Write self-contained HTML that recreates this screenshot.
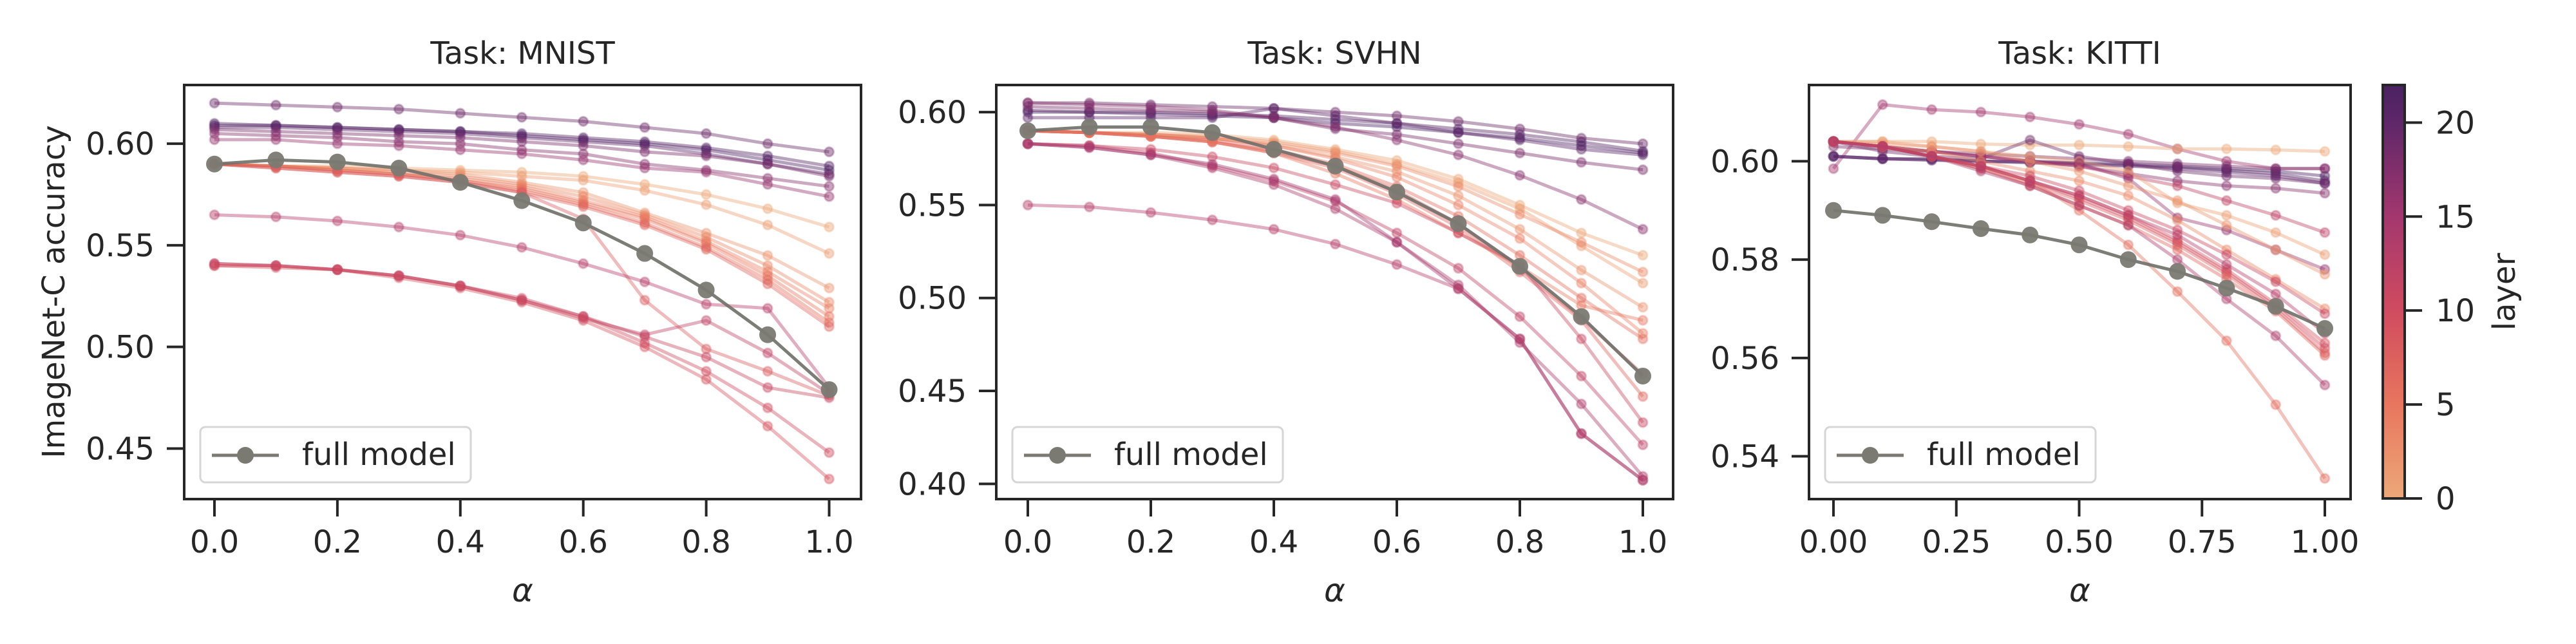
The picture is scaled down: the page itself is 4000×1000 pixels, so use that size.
<!DOCTYPE html>
<html><head><meta charset="utf-8">
<style>
html,body{margin:0;padding:0;background:#fff;}
svg{display:block;font-family:"DejaVu Sans","Liberation Sans",sans-serif;}
</style></head>
<body>
<svg id="fig" width="4000" height="1000" viewBox="0 0 4000 1000" xmlns="http://www.w3.org/2000/svg">
<defs>
<linearGradient id="cbgrad" x1="0" y1="1" x2="0" y2="0">
<stop offset="0" stop-color="#eca878"/>
<stop offset="0.227" stop-color="#e8765e"/>
<stop offset="0.455" stop-color="#d04b5f"/>
<stop offset="0.682" stop-color="#a3376e"/>
<stop offset="0.909" stop-color="#5e2768"/>
<stop offset="1" stop-color="#4a2262"/>
</linearGradient>
</defs>
<g id="root"></g>
</svg>
<script>
// ---- shared data ----
const alphas = [0,0.1,0.2,0.3,0.4,0.5,0.6,0.7,0.8,0.9,1.0];

// MNIST
const mnistLayers = [19,22,21,20,18,17,16,0,1,2,3,4,5,6,7,8,13,12,9,10,11];
const mnistValues = [
 [0.620,0.619,0.618,0.617,0.615,0.613,0.611,0.608,0.605,0.600,0.596],
 [0.609,0.609,0.608,0.607,0.606,0.604,0.602,0.600,0.597,0.592,0.587],
 [0.610,0.609,0.608,0.607,0.606,0.605,0.603,0.601,0.598,0.594,0.589],
 [0.608,0.608,0.607,0.606,0.605,0.603,0.601,0.599,0.595,0.590,0.585],
 [0.607,0.606,0.605,0.604,0.603,0.601,0.599,0.596,0.594,0.590,0.584],
 [0.605,0.604,0.603,0.601,0.600,0.597,0.595,0.590,0.587,0.583,0.579],
 [0.602,0.602,0.600,0.599,0.597,0.595,0.592,0.588,0.586,0.580,0.574],
 [0.590,0.589,0.589,0.588,0.587,0.586,0.584,0.580,0.575,0.568,0.559],
 [0.590,0.589,0.588,0.587,0.586,0.584,0.582,0.577,0.570,0.560,0.546],
 [0.590,0.589,0.588,0.587,0.585,0.581,0.576,0.566,0.556,0.545,0.529],
 [0.590,0.589,0.588,0.586,0.584,0.580,0.574,0.565,0.554,0.540,0.522],
 [0.590,0.589,0.587,0.585,0.583,0.579,0.572,0.564,0.552,0.537,0.519],
 [0.590,0.589,0.587,0.585,0.582,0.578,0.571,0.563,0.551,0.535,0.515],
 [0.590,0.589,0.587,0.585,0.582,0.577,0.570,0.561,0.549,0.533,0.512],
 [0.590,0.588,0.586,0.584,0.581,0.576,0.569,0.560,0.548,0.531,0.510],
 [0.590,0.588,0.586,0.584,0.581,0.576,0.563,0.523,0.499,0.488,0.476],
 [0.565,0.564,0.562,0.559,0.555,0.549,0.541,0.532,0.521,0.519,0.480],
 [0.541,0.540,0.538,0.535,0.530,0.523,0.514,0.506,0.513,0.497,0.477],
 [0.540,0.539,0.538,0.534,0.529,0.522,0.513,0.500,0.484,0.461,0.435],
 [0.540,0.540,0.538,0.535,0.530,0.524,0.515,0.502,0.488,0.470,0.448],
 [0.541,0.540,0.538,0.535,0.530,0.523,0.515,0.505,0.495,0.480,0.475]
];
const mnistFull = [0.590,0.592,0.591,0.588,0.581,0.572,0.561,0.546,0.528,0.506,0.479];
const mnistYTicks = [0.45,0.50,0.55,0.60];
const mnistYLabels = ["0.45","0.50","0.55","0.60"];
const mnistXTicks = [0,0.2,0.4,0.6,0.8,1.0];
const mnistXLabels = ["0.0","0.2","0.4","0.6","0.8","1.0"];

// SVHN
const svhnLayers = [19,22,21,20,17,18,0,1,2,3,4,8,7,6,5,11,12,14,15,13];
const svhnValues = [
 [0.605,0.605,0.604,0.603,0.602,0.600,0.598,0.595,0.591,0.586,0.583],
 [0.600,0.600,0.599,0.598,0.597,0.594,0.592,0.589,0.586,0.582,0.578],
 [0.601,0.600,0.600,0.599,0.598,0.596,0.594,0.591,0.588,0.584,0.579],
 [0.597,0.597,0.597,0.597,0.602,0.598,0.594,0.589,0.585,0.580,0.577],
 [0.605,0.604,0.603,0.601,0.597,0.592,0.585,0.577,0.566,0.553,0.537],
 [0.603,0.602,0.601,0.600,0.597,0.591,0.588,0.583,0.578,0.573,0.569],
 [0.590,0.589,0.589,0.588,0.585,0.580,0.574,0.564,0.550,0.535,0.523],
 [0.590,0.589,0.588,0.587,0.584,0.579,0.572,0.562,0.548,0.528,0.508],
 [0.590,0.589,0.588,0.586,0.582,0.576,0.568,0.555,0.537,0.515,0.495],
 [0.590,0.589,0.588,0.586,0.583,0.578,0.571,0.560,0.545,0.530,0.514],
 [0.590,0.589,0.588,0.586,0.582,0.575,0.565,0.550,0.532,0.508,0.481],
 [0.590,0.589,0.587,0.584,0.579,0.571,0.558,0.540,0.516,0.489,0.459],
 [0.590,0.589,0.587,0.584,0.578,0.570,0.556,0.538,0.514,0.488,0.447],
 [0.590,0.589,0.587,0.585,0.580,0.572,0.560,0.544,0.523,0.500,0.478],
 [0.590,0.589,0.587,0.584,0.578,0.567,0.553,0.535,0.517,0.496,0.488],
 [0.583,0.582,0.580,0.576,0.570,0.561,0.551,0.535,0.518,0.478,0.433],
 [0.583,0.582,0.578,0.571,0.563,0.552,0.535,0.516,0.490,0.458,0.421],
 [0.583,0.581,0.577,0.570,0.561,0.548,0.530,0.507,0.476,0.443,0.404],
 [0.583,0.581,0.577,0.572,0.564,0.553,0.530,0.505,0.478,0.427,0.402],
 [0.550,0.549,0.546,0.542,0.537,0.529,0.518,0.505,0.478,0.427,0.402]
];
const svhnFull = [0.590,0.592,0.592,0.589,0.580,0.571,0.557,0.540,0.517,0.490,0.458];
const svhnYTicks = [0.40,0.45,0.50,0.55,0.60];
const svhnYLabels = ["0.40","0.45","0.50","0.55","0.60"];
const svhnXTicks = [0,0.2,0.4,0.6,0.8,1.0];
const svhnXLabels = ["0.0","0.2","0.4","0.6","0.8","1.0"];

// KITTI
const kittiLayers = [15,0,22,21,20,19,18,17,12,1,16,2,3,9,10,8,7,6,11,14,13];
const kittiValues = [
 [0.5985,0.6115,0.6105,0.6100,0.6090,0.6075,0.6055,0.6025,0.6000,0.5985,0.5985],
 [0.6040,0.6040,0.6040,0.6035,0.6033,0.6033,0.6030,0.6025,0.6025,0.6023,0.6020],
 [0.6010,0.6005,0.6005,0.6000,0.6000,0.5997,0.5995,0.5990,0.5985,0.5980,0.5970],
 [0.6010,0.6005,0.6003,0.6000,0.5998,0.5995,0.5992,0.5988,0.5982,0.5975,0.5960],
 [0.6010,0.6005,0.6002,0.6000,0.5997,0.5993,0.5990,0.5985,0.5978,0.5970,0.5955],
 [0.6040,0.6020,0.6010,0.6005,0.6043,0.6010,0.5995,0.5980,0.5970,0.5965,0.5955],
 [0.6030,0.6025,0.6020,0.6015,0.6010,0.6005,0.6000,0.5995,0.5990,0.5985,0.5985],
 [0.6040,0.6030,0.6020,0.6010,0.6000,0.5990,0.5975,0.5960,0.5950,0.5945,0.5935],
 [0.6040,0.6030,0.6020,0.6010,0.6000,0.5990,0.5970,0.5950,0.5920,0.5890,0.5855],
 [0.6040,0.6040,0.6030,0.6020,0.6010,0.6000,0.5980,0.5915,0.5890,0.5855,0.5810],
 [0.6040,0.6030,0.6020,0.6010,0.6000,0.5995,0.5965,0.5885,0.5860,0.5820,0.5780],
 [0.6040,0.6035,0.6030,0.6020,0.6000,0.5980,0.5950,0.5920,0.5870,0.5820,0.5770],
 [0.6040,0.6030,0.6020,0.6000,0.5980,0.5960,0.5930,0.5880,0.5820,0.5760,0.5700],
 [0.6040,0.6030,0.6010,0.5990,0.5960,0.5930,0.5890,0.5840,0.5780,0.5710,0.5630],
 [0.6040,0.6030,0.6010,0.5990,0.5960,0.5925,0.5885,0.5835,0.5775,0.5705,0.5620],
 [0.6040,0.6030,0.6010,0.5985,0.5955,0.5920,0.5880,0.5830,0.5770,0.5700,0.5610],
 [0.6040,0.6030,0.6010,0.5985,0.5950,0.5910,0.5870,0.5820,0.5760,0.5695,0.5605],
 [0.6040,0.6030,0.6010,0.5990,0.5960,0.5900,0.5830,0.5735,0.5635,0.5505,0.5355],
 [0.6040,0.6030,0.6010,0.5990,0.5970,0.5940,0.5900,0.5860,0.5810,0.5755,0.5690],
 [0.6040,0.6030,0.6010,0.5980,0.5950,0.5910,0.5870,0.5800,0.5720,0.5645,0.5545],
 [0.6040,0.6030,0.6010,0.5990,0.5960,0.5930,0.5890,0.5850,0.5790,0.5730,0.5650]
];
const kittiFull = [0.5900,0.5890,0.5877,0.5863,0.5850,0.5830,0.5800,0.5776,0.5742,0.5705,0.5660];
const kittiYTicks = [0.54,0.56,0.58,0.60];
const kittiYLabels = ["0.54","0.56","0.58","0.60"];
const kittiXTicks = [0,0.25,0.5,0.75,1.0];
const kittiXLabels = ["0.00","0.25","0.50","0.75","1.00"];

const cbTicks = [0,5,10,15,20];
const cbLabels = ["0","5","10","15","20"];
const cbMax = 22;

// ---- drawing ----
const NS = "http://www.w3.org/2000/svg";
const root = document.getElementById('root');
function mk(tag, attrs, parent){
  const e = document.createElementNS(NS, tag);
  for (const k in attrs) e.setAttribute(k, attrs[k]);
  (parent||root).appendChild(e);
  return e;
}
const stops = [[0,[236,168,120]],[0.227,[232,118,94]],[0.455,[208,75,95]],[0.682,[163,55,110]],[0.909,[94,39,104]],[1,[74,34,98]]];
function cmap(layer){
  const t = Math.max(0,Math.min(1,layer/cbMax));
  for (let i=1;i<stops.length;i++){
    if (t<=stops[i][0]){
      const a=stops[i-1], b=stops[i], f=(t-a[0])/(b[0]-a[0]);
      const c=a[1].map((v,j)=>Math.round(v+(b[1][j]-v)*f));
      return `rgb(${c[0]},${c[1]},${c[2]})`;
    }
  }
  return 'rgb(74,34,98)';
}
const INK = '#262626';

function panel(cfg){
  const g = mk('g',{});
  
  
  const L=cfg.left,R=cfg.right,T=132,B=775;
  const xs = v => cfg.x0 + (cfg.x1-cfg.x0)*v;
  const ys = v => B - (v-cfg.ymin)/(cfg.ymax-cfg.ymin)*(B-T);
  // series
  const sg = mk('g',{},g);
  cfg.values.forEach((vals,i)=>{
    const col = cmap(cfg.layers[i]);
    const pts = vals.map((v,j)=>xs(alphas[j]).toFixed(1)+','+ys(v).toFixed(1)).join(' ');
    const pl = mk('polyline',{points:pts,fill:'none',stroke:col,'stroke-width':5,'stroke-opacity':0.42,'stroke-linejoin':'round'},sg);
    
    
    vals.forEach((v,j)=>{
      const c = mk('circle',{cx:xs(alphas[j]),cy:ys(v),r:7,fill:col,'fill-opacity':0.45,stroke:col,'stroke-opacity':0.3,'stroke-width':3},sg);
      
      
    });
  });
  // full model
  const fpts = cfg.full.map((v,j)=>xs(alphas[j]).toFixed(1)+','+ys(v).toFixed(1)).join(' ');
  const fl = mk('polyline',{points:fpts,fill:'none',stroke:'#6f6f68','stroke-width':5,'stroke-opacity':0.9},g);
  
  
  cfg.full.forEach((v,j)=>{
    const c = mk('circle',{cx:xs(alphas[j]),cy:ys(v),r:13,fill:'#7a7a73','fill-opacity':0.95},g);
    
    
  });
  // frame
  const fr = mk('rect',{x:L,y:T,width:R-L,height:B-T,fill:'none',stroke:INK,'stroke-width':4},g);
  
  
  // y ticks
  cfg.yticks.forEach((v,i)=>{
    const y=ys(v);
    mk('line',{x1:L-27,x2:L,y1:y,y2:y,stroke:INK,'stroke-width':4},g);
    const t = mk('text',{x:L-46,y:y+17,'text-anchor':'end','font-size':48,fill:INK},g);
    t.textContent = cfg.ylabels[i];
    
    
  });
  cfg.xticks.forEach((v,i)=>{
    const x=xs(v);
    mk('line',{x1:x,x2:x,y1:B,y2:B+27,stroke:INK,'stroke-width':4},g);
    const t = mk('text',{x:x,y:858,'text-anchor':'middle','font-size':48,fill:INK},g);
    t.textContent = cfg.xlabels[i];
    
    
  });
  const title = mk('text',{x:(L+R)/2,y:99,'text-anchor':'middle','font-size':48,fill:INK},g);
  title.textContent = cfg.title;
  
  
  const xl = mk('text',{x:(L+R)/2,y:934,'text-anchor':'middle','font-size':50,'font-style':'italic',fill:INK},g);
  xl.textContent = 'α';
  
  
  // legend
  const lg = mk('g',{},g);
  
  
  const lx=L+25, ly=663;
  mk('rect',{x:lx,y:ly,width:420,height:86,rx:8,fill:'#fff','fill-opacity':0.8,stroke:'#d6d6d6','stroke-width':3},lg);
  mk('line',{x1:lx+18,x2:lx+122,y1:ly+44,y2:ly+44,stroke:'#7a7a73','stroke-width':5},lg);
  mk('circle',{cx:lx+70,cy:ly+44,r:13,fill:'#7a7a73'},lg);
  const lt = mk('text',{x:lx+158,y:ly+59,'font-size':48,fill:INK},lg);
  lt.textContent = 'full model';
  
  
}

panel({name:'mnist',title:'Task: MNIST',left:286,right:1337,x0:333,x1:1287.5,ymin:0.4251,ymax:0.6289,
  layers:mnistLayers,values:mnistValues,full:mnistFull,yticks:mnistYTicks,ylabels:mnistYLabels,xticks:mnistXTicks,xlabels:mnistXLabels});
panel({name:'svhn',title:'Task: SVHN',left:1547,right:2598,x0:1596,x1:2551,ymin:0.3918,ymax:0.6146,
  layers:svhnLayers,values:svhnValues,full:svhnFull,yticks:svhnYTicks,ylabels:svhnYLabels,xticks:svhnXTicks,xlabels:svhnXLabels});
panel({name:'kitti',title:'Task: KITTI',left:2809,right:3650,x0:2847,x1:3610,ymin:0.5313,ymax:0.6155,
  layers:kittiLayers,values:kittiValues,full:kittiFull,yticks:kittiYTicks,ylabels:kittiYLabels,xticks:kittiXTicks,xlabels:kittiXLabels});

// y axis title
const yt = mk('text',{x:0,y:0,'text-anchor':'middle','font-size':48,fill:INK,transform:'translate(100,453) rotate(-90)'});
yt.textContent = 'ImageNet-C accuracy';



// colorbar
const cb = mk('g',{});


const cbT=132, cbB=774, cbL=3700, cbR=3734;
mk('rect',{x:cbL,y:cbT,width:cbR-cbL,height:cbB-cbT,fill:'url(#cbgrad)',stroke:INK,'stroke-width':4},cb);
cbTicks.forEach((v,i)=>{
  const y = cbB - v/cbMax*(cbB-cbT);
  mk('line',{x1:cbR,x2:cbR+27,y1:y,y2:y,stroke:INK,'stroke-width':4},cb);
  const t = mk('text',{x:3782,y:y+17,'font-size':48,fill:INK},cb);
  t.textContent = cbLabels[i];
  
  
});
const cbl = mk('text',{x:0,y:0,'text-anchor':'middle','font-size':48,fill:INK,transform:'translate(3905,453) rotate(-90)'},cb);
cbl.textContent = 'layer';


</script>
</body></html>
